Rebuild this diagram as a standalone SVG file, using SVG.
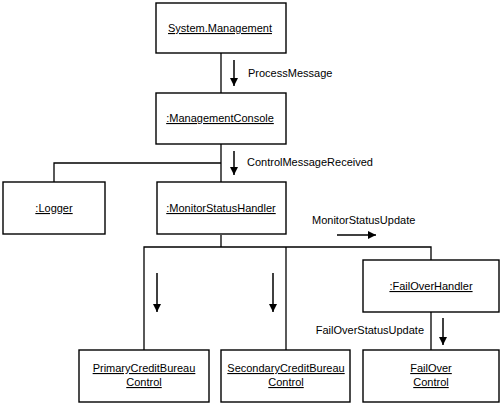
<svg xmlns="http://www.w3.org/2000/svg" width="500" height="403" viewBox="0 0 500 403">
<defs>
<marker id="ah" viewBox="0 0 8 10" refX="8" refY="5" markerWidth="8" markerHeight="10" markerUnits="userSpaceOnUse" orient="auto">
<path d="M0,1 L8,5 L0,9 Z" fill="#000"/>
</marker>
<style>
.box{fill:#fff;stroke:#000;stroke-width:1.4}
.ln{fill:none;stroke:#000;stroke-width:1.3}
.ar{fill:none;stroke:#000;stroke-width:1.5;marker-end:url(#ah)}
text{font-family:"Liberation Sans",Arial,sans-serif;font-size:11px;fill:#000}
.n{text-anchor:middle;text-decoration:underline}
</style>
</defs>
<rect width="500" height="403" fill="#fff"/>
<g id="connectors">
<path class="ln" d="M221,53 V93"/>
<path class="ln" d="M221,144 V182"/>
<path class="ln" d="M54,182 V163 H221"/>
<path class="ln" d="M221,235 V247"/>
<path class="ln" d="M144,350 V247 H431 V260"/>
<path class="ln" d="M286,247 V350"/>
<path class="ln" d="M431,312 V350"/>
<path class="ar" d="M234,60 V86"/>
<text x="248" y="77">ProcessMessage</text>
<path class="ar" d="M234,151 V175"/>
<text x="247" y="166">ControlMessageReceived</text>
<path class="ar" d="M337,235 H376"/>
<text x="312" y="224">MonitorStatusUpdate</text>
<path class="ar" d="M157,273 V312"/>
<path class="ar" d="M273,273 V312"/>
<path class="ar" d="M443,318 V345"/>
<text x="424" y="334" text-anchor="end">FailOverStatusUpdate</text>
</g>
<g id="system-management">
<rect class="box" x="156" y="3" width="130" height="50"/>
<text class="n" x="220" y="32">System.Management</text>
</g>
<g id="management-console">
<rect class="box" x="156" y="93" width="130" height="51"/>
<text class="n" x="220" y="122">:ManagementConsole</text>
</g>
<g id="logger">
<rect class="box" x="3" y="182" width="102" height="52"/>
<text class="n" x="54" y="212">:Logger</text>
</g>
<g id="monitor-status-handler">
<rect class="box" x="157" y="182" width="129" height="52"/>
<text class="n" x="221" y="212">:MonitorStatusHandler</text>
</g>
<g id="failover-handler">
<rect class="box" x="363" y="260" width="136" height="52"/>
<text class="n" x="431" y="290">:FailOverHandler</text>
</g>
<g id="primary-credit-bureau-control">
<rect class="box" x="79" y="350" width="130" height="52"/>
<text class="n" x="144" y="372">PrimaryCreditBureau</text>
<text class="n" x="144" y="386">Control</text>
</g>
<g id="secondary-credit-bureau-control">
<rect class="box" x="221" y="350" width="129" height="52"/>
<text class="n" x="286" y="372">SecondaryCreditBureau</text>
<text class="n" x="286" y="386">Control</text>
</g>
<g id="failover-control">
<rect class="box" x="363" y="350" width="136" height="52"/>
<text class="n" x="431" y="372">FailOver</text>
<text class="n" x="431" y="386">Control</text>
</g>
</svg>
